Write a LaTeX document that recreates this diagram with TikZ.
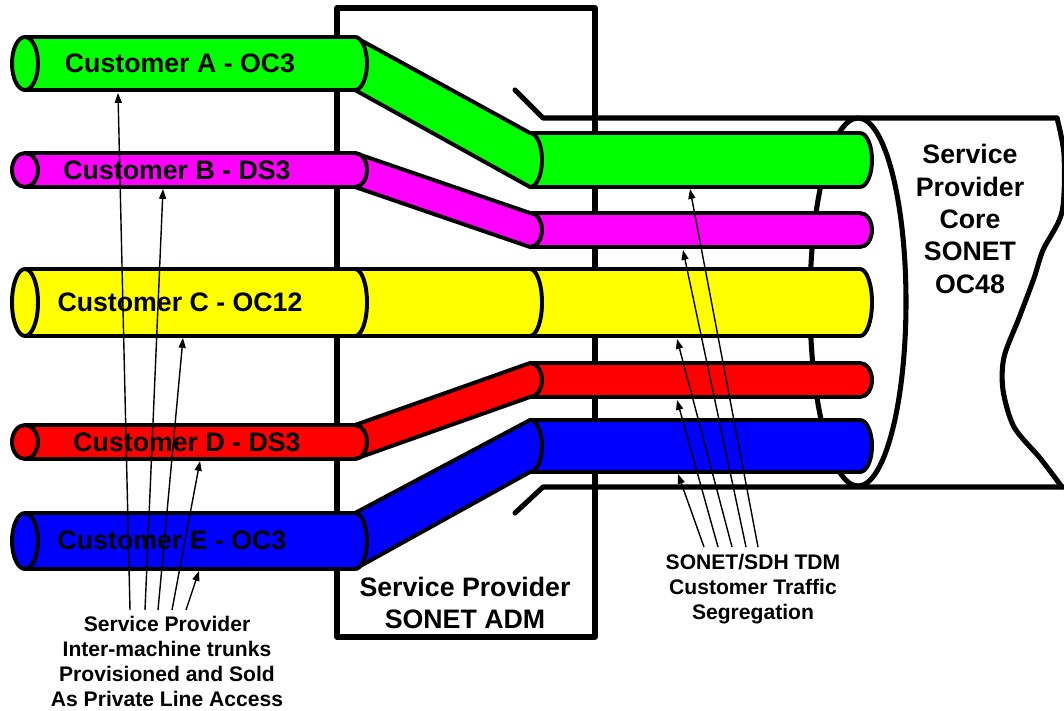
\documentclass[tikz,border=0pt]{standalone}
\usepackage{fontspec}
\setmainfont{Liberation Sans}
\usetikzlibrary{arrows.meta}
\definecolor{cgreen}{RGB}{0,255,0}
\definecolor{cmagenta}{RGB}{255,0,255}
\definecolor{cyellow}{RGB}{255,255,0}
\definecolor{cred}{RGB}{255,0,0}
\definecolor{cblue}{RGB}{0,0,255}

\begin{document}
\begin{tikzpicture}[x=0.025cm,y=-0.025cm,
    cable/.style={draw,line width=2.8pt,line join=round},
    frame/.style={line width=3.6pt,line join=round,line cap=round},
    lbl/.style={font=\bfseries\fontsize{19}{23}\selectfont,align=center,inner sep=0pt},
    note/.style={font=\bfseries\fontsize{15}{17.8}\selectfont,align=center,inner sep=0pt},
    pointer/.style={-{Triangle[length=7pt,width=5pt]},line width=1pt}]
  \useasboundingbox (0,0) rectangle (1064,710);

  % add/drop multiplexer and the core pipe
  \draw[frame] (337,8) rectangle (595,637);
  \draw[frame] (515,90) -- (543,118) -- (1057,118);
  \draw[frame] (515,513) -- (543,487) -- (1066,487);
  \draw[frame] plot[smooth] coordinates {(1057,118) (1064,155) (1062,212) (1043,250) (1034,278) (1019,318) (1004,357) (1003,390) (1014,427) (1040,458) (1062,487)};
  \draw[frame] (858,302) ellipse[x radius=48,y radius=184];

  % customer A
  \draw[cable,fill=cgreen] (530,133) -- (860,133) arc[start angle=-90,end angle=90,x radius=12,y radius=27] -- (530,187) -- cycle;
  \draw[cable,fill=cgreen] (355,37) -- (530,133) arc[start angle=-90,end angle=90,x radius=12,y radius=27] -- (355,90) -- cycle;
  \draw[cable,fill=cgreen] (25,37) -- (355,37) arc[start angle=-90,end angle=90,x radius=12,y radius=26.5] -- (25,90) -- cycle;
  \draw[cable,fill=cgreen] (25,63.5) ellipse[x radius=13,y radius=26.5];

  % customer B
  \draw[cable,fill=cmagenta] (530,213) -- (860,213) arc[start angle=-90,end angle=90,x radius=12,y radius=17] -- (530,247) -- cycle;
  \draw[cable,fill=cmagenta] (355,153) -- (530,213) arc[start angle=-90,end angle=90,x radius=12,y radius=17] -- (355,187) -- cycle;
  \draw[cable,fill=cmagenta] (25,153) -- (355,153) arc[start angle=-90,end angle=90,x radius=12,y radius=17] -- (25,187) -- cycle;
  \draw[cable,fill=cmagenta] (25,170) ellipse[x radius=13,y radius=17];

  % customer C
  \draw[cable,fill=cyellow] (530,269) -- (860,269) arc[start angle=-90,end angle=90,x radius=12,y radius=33.5] -- (530,336) -- cycle;
  \draw[cable,fill=cyellow] (355,269) -- (530,269) arc[start angle=-90,end angle=90,x radius=12,y radius=33.5] -- (355,336) -- cycle;
  \draw[cable,fill=cyellow] (25,269) -- (355,269) arc[start angle=-90,end angle=90,x radius=12,y radius=33.5] -- (25,336) -- cycle;
  \draw[cable,fill=cyellow] (25,302.5) ellipse[x radius=13,y radius=33.5];

  % customer D
  \draw[cable,fill=cred] (530,363) -- (860,363) arc[start angle=-90,end angle=90,x radius=12,y radius=17] -- (530,397) -- cycle;
  \draw[cable,fill=cred] (355,425) -- (530,363) arc[start angle=-90,end angle=90,x radius=12,y radius=17] -- (355,459) -- cycle;
  \draw[cable,fill=cred] (25,425) -- (355,425) arc[start angle=-90,end angle=90,x radius=12,y radius=17] -- (25,459) -- cycle;
  \draw[cable,fill=cred] (25,442) ellipse[x radius=13,y radius=17];

  % customer E
  \draw[cable,fill=cblue] (530,420) -- (860,420) arc[start angle=-90,end angle=90,x radius=12,y radius=26] -- (530,472) -- cycle;
  \draw[cable,fill=cblue] (355,513) -- (530,420) arc[start angle=-90,end angle=90,x radius=12,y radius=26] -- (355,569) -- cycle;
  \draw[cable,fill=cblue] (25,513) -- (355,513) arc[start angle=-90,end angle=90,x radius=12,y radius=28] -- (25,569) -- cycle;
  \draw[cable,fill=cblue] (25,541) ellipse[x radius=13,y radius=28];

  \node[lbl] (labA) at (180,63) {Customer A - OC3};
  \node[lbl] (labB) at (177,170) {Customer B - DS3};
  \node[lbl] (labC) at (180,302) {Customer C - OC12};
  \node[lbl] (labD) at (187,442) {Customer D - DS3};
  \node[lbl] (labE) at (172,540) {Customer E - OC3};
  \node[lbl] (core) at (970,219) {Service\\Provider\\Core\\SONET\\OC48};
  \node[lbl] (adm) at (465,603) {Service Provider\\SONET ADM};
  \node[note] (trunks) at (167,661) {Service Provider\\Inter-machine trunks\\Provisioned and Sold\\As Private Line Access};
  \node[note] (tdm) at (753,589) {SONET/SDH TDM\\Customer Traffic\\Segregation};

  % access trunks
  \coordinate (trA) at (130,610);
  \coordinate (trB) at (145,610);
  \coordinate (trC) at (158,610);
  \coordinate (trD) at (172,610);
  \coordinate (trE) at (186,610);
  \coordinate (inA) at (118,93);
  \coordinate (inB) at (163,189);
  \coordinate (inC) at (183,338);
  \coordinate (inD) at (200,461);
  \coordinate (inE) at (199,571);
  % TDM slots
  \coordinate (sgA) at (758,547);
  \coordinate (sgB) at (746,547);
  \coordinate (sgC) at (732,547);
  \coordinate (sgD) at (718,547);
  \coordinate (sgE) at (704,547);
  \coordinate (outA) at (690,189);
  \coordinate (outB) at (683,250);
  \coordinate (outC) at (677,339);
  \coordinate (outD) at (677,400);
  \coordinate (outE) at (678,474);

  \foreach \p in {A,B,C,D,E} {
    \draw[pointer] (tr\p) -- (in\p);
    \draw[pointer] (sg\p) -- (out\p);
  }
\end{tikzpicture}
\end{document}
